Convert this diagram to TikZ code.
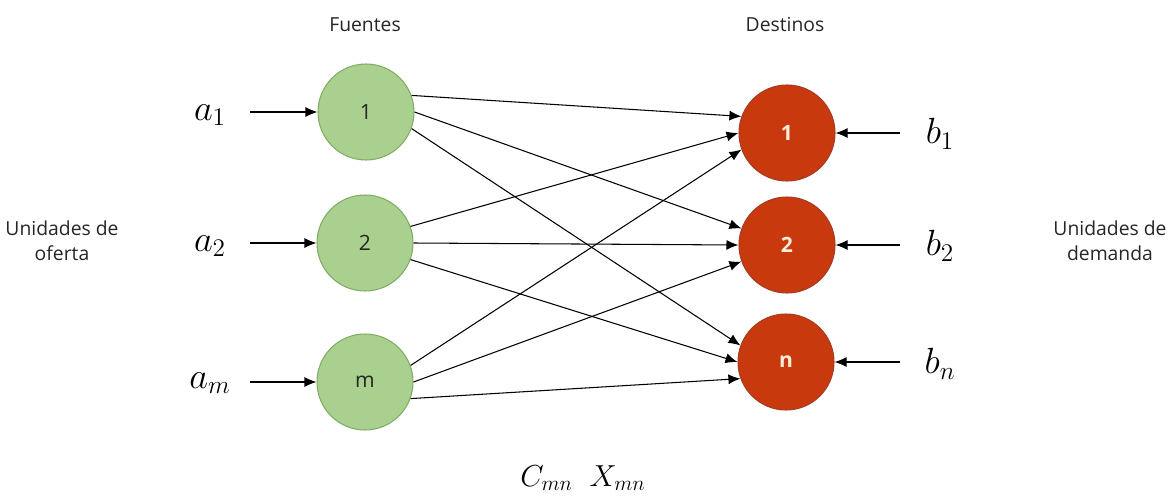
\documentclass[tikz,border=0pt]{standalone}
\usepackage{fontspec}
\setmainfont{Open Sans}
\usetikzlibrary{arrows.meta}
\definecolor{srcfill}{RGB}{169,208,142}
\definecolor{srcline}{RGB}{128,172,100}
\definecolor{dstfill}{RGB}{200,58,14}
\definecolor{dstline}{RGB}{165,60,35}
\tikzset{
  fuente/.style={circle, minimum size=1.92cm, fill=srcfill, draw=srcline, line width=0.6pt, font=\fontsize{12}{14}\selectfont, text=black!85},
  destino/.style={circle, minimum size=1.92cm, fill=dstfill, draw=dstline, line width=0.6pt, font=\fontsize{12}{14}\selectfont\bfseries, text=orange!15},
  etiq/.style={font=\fontsize{11}{14}\selectfont, text=black!85, align=center},
  cant/.style={font=\fontsize{22}{24}\selectfont, minimum width=1.3cm},
  flecha/.style={-{Latex[length=2.4mm,width=2mm]}, line width=0.6pt}
}
\begin{document}
\begin{tikzpicture}
        \useasboundingbox (0,0) rectangle (23.5,-9.9);

        % fuentes y destinos
        \node[fuente] (s1) at (7.32,-2.24) {1};
        \node[fuente] (s2) at (7.30,-4.86) {2};
        \node[fuente] (sm) at (7.30,-7.64) {m};
        \node[destino] (d1) at (15.74,-2.66) {1};
        \node[destino] (d2) at (15.74,-4.90) {2};
        \node[destino] (dn) at (15.72,-7.24) {n};

        \node[etiq] (fuentes) at (7.30,-0.50) {Fuentes};
        \node[etiq] (destinos) at (15.70,-0.50) {Destinos};
        \node[etiq] (oferta) at (1.24,-4.82) {Unidades de\\oferta};
        \node[etiq] (demanda) at (22.20,-4.82) {Unidades de\\demanda};

        % ofertas
        \node[cant] (a1) at (4.20,-2.30) {$a_1$};
        \node[cant] (a2) at (4.20,-4.92) {$a_2$};
        \node[cant] (am) at (4.20,-7.66) {$a_m$};
        % demandas
        \node[cant] (b1) at (18.80,-2.68) {$b_1$};
        \node[cant] (b2) at (18.80,-4.92) {$b_2$};
        \node[cant] (bn) at (18.80,-7.28) {$b_n$};

        \foreach \i in {1,2,m}
          \draw[flecha, shorten <=1.5mm] (a\i.east |- s\i) -- (s\i);
        \foreach \j in {1,2,n}
          \draw[flecha, shorten <=1.5mm] (b\j.west |- d\j) -- (d\j);

        % rutas
        \foreach \i/\ang in {1/160, 2/180, m/200}
          \foreach \j/\dep in {1/20, 2/0, n/-20}
            \draw[flecha] (s\i.\dep) -- (d\j.\ang);

        \node[cant, font=\fontsize{18}{20}\selectfont] (costo) at (11.66,-9.56) {$C_{mn}\;\; X_{mn}$};
    \end{tikzpicture}
\end{document}
